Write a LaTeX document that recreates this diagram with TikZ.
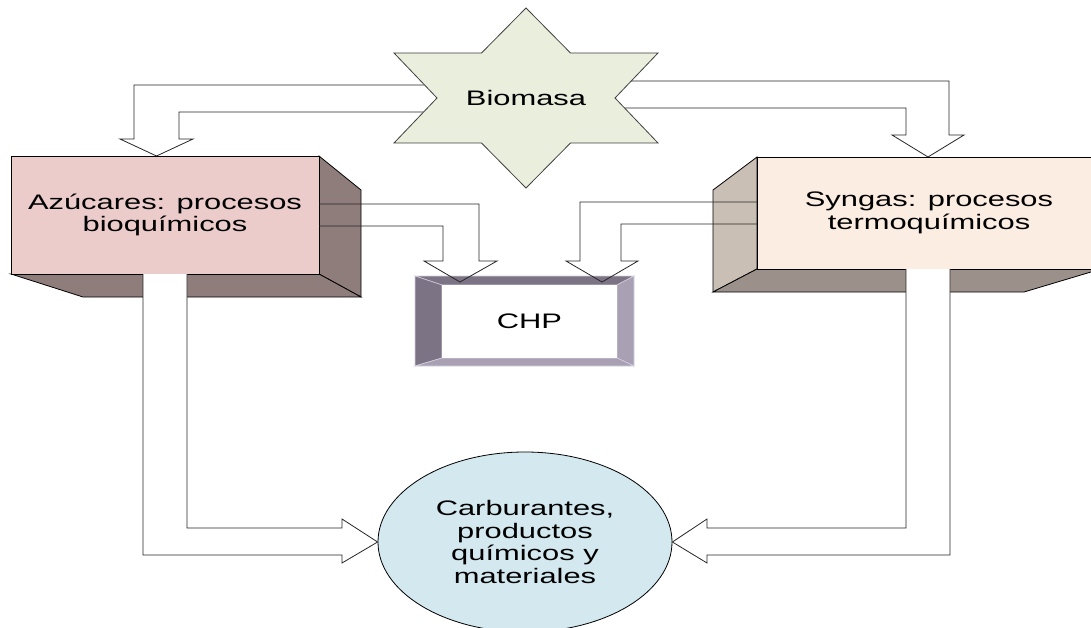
\documentclass[tikz,border=0pt]{standalone}
\usepackage{fontspec}
\newfontfamily\diagfont{Liberation Sans}[FakeStretch=1.47]
\usetikzlibrary{shapes.geometric}
\definecolor{starfill}{HTML}{EAEEDC}
\definecolor{azufront}{HTML}{EBCCCB}
\definecolor{azuside}{HTML}{8F7D7B}
\definecolor{synfront}{HTML}{FCEDE2}
\definecolor{synside}{HTML}{C9BFB5}
\definecolor{synbottom}{HTML}{9B918A}
\definecolor{chpdark}{HTML}{7C7484}
\definecolor{chplight}{HTML}{A9A0B4}
\definecolor{chpedge}{HTML}{D6CFE0}
\definecolor{prodfill}{HTML}{D3E9EF}
\tikzset{%
  lbl/.style={%
    font=\diagfont\fontsize{21}{22.7}\selectfont,
    align=center,
    inner sep=0pt%
  },
  face/.style={%
    draw=black,
    line width=0.8pt%
  },
  boxfront/.style={%
    face,
    lbl,
    rectangle,
    minimum height=118pt%
  },
  bevel/.style={%
    draw=chpedge,
    line width=0.6pt%
  },
  blockarrow/.style={%
    draw=black!85,
    line width=0.8pt,
    fill=white%
  },
  openarrow/.style={%
    draw=black!85,
    line width=0.8pt%
  }
}

\begin{document}
\begin{tikzpicture}[x=1pt,y=-1pt]
      \useasboundingbox (0,0) rectangle (1091,628);
      \clip (0,0) rectangle (1091,628);

      % arrows leaving the star
      \filldraw[blockarrow] (460,85) -- (134,85) -- (134,139) -- (120,139)
        -- (156.5,156) -- (193,139) -- (179,139) -- (179,112) -- (460,112);
      \filldraw[blockarrow] (600,81) -- (949,81) -- (949,135) -- (964,135)
        -- (928,157) -- (892,135) -- (906,135) -- (906,108) -- (600,108);

      % star
      \draw[face, draw=black!75, fill=starfill] (526,8) -- (570.5,53) -- (658,53)
        -- (615,98) -- (658,143) -- (570.5,143) -- (526,188) -- (481.5,143)
        -- (394,143) -- (437,98) -- (394,53) -- (481.5,53) -- cycle;
      \node[lbl] (bio) at (526,98) {Biomasa};

      % left box
      \filldraw[face, fill=azuside] (319,156) -- (361,190) -- (361,297) -- (319,274) -- cycle;
      \filldraw[face, fill=azuside] (11,274) -- (83,297) -- (361,297) -- (319,274) -- cycle;
      \node[boxfront, fill=azufront, minimum width=308pt] (azu) at (165,215)
        {Azúcares: procesos\\bioquímicos};

      % right box
      \filldraw[face, fill=synside] (757,157) -- (713,190) -- (713,292) -- (757,269) -- cycle;
      \filldraw[face, fill=synbottom] (757,269) -- (713,292) -- (1024,292) -- (1101,269) -- cycle;
      \node[boxfront, fill=synfront, minimum width=344pt, minimum height=112pt] (syn) at (929,213)
        {Syngas: procesos\\termoquímicos};

      % CHP frame
      \filldraw[bevel, fill=chpdark] (415,276) -- (634,276) -- (617,285) -- (442,285) -- cycle;
      \filldraw[bevel, fill=chpdark] (415,276) -- (442,285) -- (442,358) -- (415,366) -- cycle;
      \filldraw[bevel, fill=chplight] (634,276) -- (617,285) -- (617,358) -- (634,366) -- cycle;
      \filldraw[bevel, fill=chplight] (415,366) -- (442,358) -- (617,358) -- (634,366) -- cycle;
      \node[lbl, fill=white, minimum width=175pt, minimum height=73pt] (chp) at (529.5,321.5) {CHP};

      % products
      \node[face, lbl, ellipse, fill=prodfill, minimum width=294pt, minimum height=180pt] (prod)
        at (525,542) {Carburantes,\\productos\\químicos y\\materiales};

      % arrows down to the products
      \filldraw[blockarrow] (143,274) -- (143,555) -- (342,555) -- (342,563)
        -- (prod.west) -- (342,519) -- (342,528) -- (187,528) -- (187,274);
      \filldraw[blockarrow] (950,269) -- (950,555) -- (707,555) -- (707,563)
        -- (prod.east) -- (707,519) -- (707,528) -- (906,528) -- (906,269);

      % arrows into CHP
      \draw[openarrow] (319,204) -- (479,204) -- (479,261) -- (497,261)
        -- (460,282) -- (424,261) -- (443,261) -- (443,226) -- (319,226);
      \draw[openarrow] (757,202) -- (580,202) -- (580,261) -- (566,261)
        -- (602,282) -- (638,261) -- (621,261) -- (621,224) -- (757,224);
\end{tikzpicture}
\end{document}
